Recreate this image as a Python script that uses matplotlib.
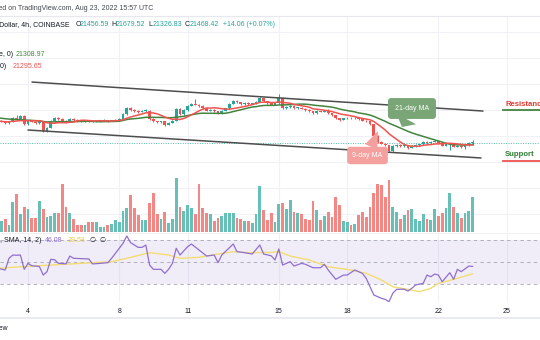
#BTC/USD 4h chart with channel, moving averages, volume and RSI (TradingView style)

import numpy as np
import pandas as pd
import matplotlib
matplotlib.use('Agg')
import matplotlib.pyplot as plt
import matplotlib.dates as mdates
from matplotlib.lines import Line2D
from matplotlib.ticker import FuncFormatter

plt.rcParams['font.family'] = ['Liberation Sans', 'DejaVu Sans']

W, H = 540, 340

#first visible 4h bar
FIRST_BAR = '2022-08-02 16:00'

#closes before the visible window, only needed for the moving averages
hist_closes = [23600, 23700, 23650, 23800, 23750, 23600, 23550, 23450, 23400, 23350,
               23500, 23450, 23300, 23250, 23100, 23050, 23150, 23200, 23100, 23050]
first_open = 23000

closes = [23080, 23150, 23000, 23080, 23380, 23310, 23540, 22920, 23150, 23080,
          23000, 23150, 22380, 22610, 23150, 23380, 23310, 23150, 23080, 23310,
          23230, 23150, 23120, 23190, 23150, 23110, 23150, 23190, 23230, 23150,
          23190, 23230, 23310, 23690, 24150, 24000, 23920, 23850, 23920, 23960,
          23310, 23150, 23080, 23120, 22850, 23000, 23150, 24080, 23690, 24000,
          24310, 24460, 24420, 24310, 24150, 23960, 24000, 23920, 23770, 23920,
          24120, 24460, 24690, 24580, 24460, 24540, 24460, 24500, 24620, 24920,
          24690, 24540, 24420, 24500, 24920, 24150, 24230, 24310, 24150, 24190,
          24080, 24000, 23920, 23770, 23920, 23880, 23920, 23770, 23620, 23380,
          23230, 23350, 23420, 23350, 23380, 23270, 23190, 23120, 22920, 22000,
          21540, 21420, 21310, 20850, 21230, 21310, 21230, 21310, 21080, 21230,
          21310, 21350, 21540, 21460, 21540, 21620, 21460, 21250, 21350, 21380,
          21180, 21260, 21150, 21300, 21456.59, 21468.42]

highs = [23150, 23220, 23190, 23130, 23450, 23650, 23600, 23580, 23200, 23210,
         23130, 23260, 23180, 22700, 23200, 23430, 23480, 23350, 23200, 23360,
         23350, 23270, 23190, 23240, 23230, 23180, 23200, 23230, 23270, 23260,
         23230, 23280, 23360, 23740, 24240, 24210, 24060, 23970, 23980, 24040,
         23990, 23360, 23190, 23180, 23150, 23060, 23200, 24150, 24120, 24060,
         24380, 24560, 24850, 24480, 24350, 24190, 24060, 24050, 23960, 23970,
         24180, 24520, 24760, 24740, 24610, 24600, 24580, 24560, 24680, 25000,
         24960, 24730, 24580, 24560, 25210, 24970, 24290, 24380, 24350, 24240,
         24230, 24130, 24040, 23960, 23970, 23950, 23990, 24100, 23800, 23650,
         23410, 23400, 23470, 23460, 23430, 23410, 23300, 23230, 23150, 22960,
         22050, 21650, 21480, 21340, 21280, 21380, 21360, 21370, 21340, 21290,
         21360, 21400, 21600, 21580, 21600, 21690, 21650, 21500, 21420, 21450,
         21420, 21330, 21300, 21360, 21520, 21679.52]

lows = [22950, 23040, 22940, 22960, 23050, 23260, 23290, 22870, 22880, 23040,
        22950, 22960, 22300, 22340, 22580, 23100, 23260, 23080, 23000, 23050,
        23190, 23110, 23070, 23090, 23100, 23060, 23080, 23120, 23150, 23100,
        23120, 23160, 23200, 23280, 23650, 23950, 23870, 23800, 23810, 23880,
        23250, 23080, 23020, 23030, 22770, 22810, 22970, 23120, 23620, 23650,
        23960, 24280, 24380, 24250, 24100, 23900, 23910, 23870, 23700, 23730,
        23890, 24080, 24430, 24530, 24400, 24420, 24410, 24430, 24470, 24590,
        24640, 24490, 24370, 24380, 24460, 24080, 24100, 24190, 24100, 24110,
        24040, 23960, 23880, 23720, 23730, 23830, 23850, 23720, 23560, 23310,
        23180, 23200, 23320, 23300, 23320, 23220, 23150, 23070, 22860, 21920,
        21450, 21350, 21250, 20780, 20800, 21180, 21160, 21190, 21000, 21040,
        21190, 21260, 21310, 21410, 21420, 21500, 21400, 21200, 21220, 20960,
        21120, 21140, 21090, 20980, 21260, 21326.83]

volumes = [900, 660, 800, 420, 1800, 2260, 1060, 1500, 1360, 820,
           820, 1860, 1400, 900, 960, 1120, 1160, 2860, 1520, 1160,
           760, 420, 420, 400, 620, 620, 600, 320, 300, 420,
           500, 700, 620, 1260, 1460, 2220, 1460, 1020, 700, 700,
           1760, 2360, 1100, 760, 1220, 520, 760, 3220, 1500, 1260,
           1600, 1460, 1060, 2900, 1460, 1160, 1060, 660, 820, 960,
           1120, 1120, 1120, 820, 760, 660, 660, 560, 1060, 2760,
           1300, 700, 1120, 620, 1660, 1760, 1360, 1900, 1220, 1140,
           1060, 760, 700, 1860, 1320, 700, 960, 1180, 920, 2100,
           1600, 660, 600, 420, 460, 1000, 1180, 900, 1500, 2360,
           2860, 2800, 2100, 3100, 1520, 1180, 760, 1020, 1320, 1400,
           800, 660, 1100, 760, 700, 1360, 960, 1160, 1460, 2340,
           1500, 1120, 820, 1160, 1260, 2100]

#rsi and its sma, read at bar index of the visible window
rsi_idx = [0, 2, 3, 4, 5, 6, 7, 8, 9, 11, 12, 13, 14, 15, 16, 18, 19, 20, 22, 24,
           25, 27, 29, 30, 31, 33, 34, 35, 37, 38, 39, 40, 41, 43, 44, 45, 46, 47, 48, 50,
           51, 53, 55, 57, 58, 59, 62, 63, 65, 67, 69, 70, 72, 73, 74, 75, 77, 78, 80, 81,
           83, 85, 86, 87, 89, 91, 92, 94, 96, 97, 99, 101, 102, 103, 104, 105, 107, 108, 109, 110,
           112, 113, 114, 115, 116, 117, 119, 120, 121, 122, 124, 125]
rsi_vals = [44.4, 42.9, 53.3, 56.2, 56.0, 56.2, 43.5, 48.8, 46.7, 46.0,
            38.4, 41.4, 52.4, 52.0, 48.8, 48.4, 55.3, 53.3, 53.0, 52.7,
            48.3, 48.8, 49.4, 53.3, 57.7, 66.6, 73.1, 67.2, 63.0, 63.0,
            65.1, 47.3, 43.5, 43.5, 39.9, 43.5, 48.8, 62.2, 56.2, 63.6,
            66.0, 60.7, 55.3, 56.2, 49.4, 56.2, 66.0, 59.2, 58.3, 57.1,
            65.1, 57.1, 55.5, 51.8, 61.6, 47.3, 50.3, 46.4, 48.8, 48.0,
            44.9, 44.9, 48.0, 42.9, 34.6, 38.4, 38.4, 42.9, 39.9, 35.5,
            20.7, 17.7, 16.8, 14.7, 22.2, 25.7, 25.8, 24.2, 26.6, 29.6,
            31.0, 38.4, 36.9, 39.3, 38.4, 32.5, 40.5, 34.6, 43.5, 41.4,
            46.4, 46.08]
rsi_ma_idx = [0, 6, 14, 22, 30, 34, 40, 45, 48, 53, 58, 62, 66, 72,
              74, 77, 82, 87, 93, 97, 101, 104, 109, 111, 114, 116, 121, 125]
rsi_ma_vals = [44.4, 45.8, 47.3, 48.8, 50.3, 53.3, 58.3, 56.2, 53.3, 54.2, 57.1, 59.2, 58.3, 58.5,
               59.2, 55.3, 51.8, 45.8, 42.9, 39.9, 34.0, 28.0, 25.1, 23.6, 26.6, 31.0, 35.5, 39.58]

day_ticks = [4, 8, 11, 15, 18, 22, 25]

#hand drawn channel (date, price)
upper_line = (['2022-08-04 04:13', '2022-08-23 22:57'], [26150, 23920])
lower_line = (['2022-08-04 00:00', '2022-08-23 20:50'], [22460, 20310])

UP, DOWN = '#26a69a', '#ef5350'
UP_VOL, DOWN_VOL = '#67c0b8', '#f48684'
MA_RED, MA_GREEN = '#f05350', '#43843f'
TEXT = '#131722'
GRID = '#eff1f6'


def px_axes(fig, top, bottom):
    ax = fig.add_axes([0, 1 - bottom / H, 1, (bottom - top) / H])
    ax.patch.set_alpha(0)
    for s in ax.spines.values():
        s.set_visible(False)
    return ax


def fig_text(fig, x, y, s, **kw):
    kw.setdefault('fontsize', 5)
    kw.setdefault('va', 'center')
    kw.setdefault('color', TEXT)
    fig.text(x / W, 1 - y / H, s, **kw)


def fig_hline(fig, y, x0, x1, **kw):
    fig.add_artist(Line2D([x0 / W, x1 / W], [1 - y / H] * 2, **kw))


def callout(ax, text, tip, box, color, pad, tail):
    ax.annotate(text, xy=(mdates.date2num(pd.Timestamp(tip[0])), tip[1]),
                xytext=(mdates.date2num(pd.Timestamp(box[0])), box[1]),
                ha='center', va='center', color='white', fontsize=5, zorder=8,
                bbox=dict(boxstyle='round,pad=%s,rounding_size=0.5' % pad, fc=color, ec='none'),
                arrowprops=dict(arrowstyle='wedge,tail_width=%s' % tail, fc=color, ec='none',
                                shrinkA=0, shrinkB=0))


def main():
    fig = plt.figure(figsize=(W / 100, H / 100), dpi=100)
    fig.patch.set_facecolor('white')

    n = len(closes)
    times = pd.date_range(FIRST_BAR, periods=n, freq='4h')
    x = mdates.date2num(times)
    c = np.array(closes, dtype=float)
    o = np.r_[first_open, c[:-1]]
    up = c >= o

    all_closes = pd.Series(hist_closes + closes, dtype=float)
    ma9 = all_closes.rolling(9).mean().to_numpy()[len(hist_closes):]
    ma21 = all_closes.rolling(21).mean().to_numpy()[len(hist_closes):]

    xlim = mdates.date2num([pd.Timestamp('2022-08-02 18:31'), pd.Timestamp('2022-08-26 10:57')])
    xticks = mdates.date2num([pd.Timestamp(2022, 8, d) for d in day_ticks])

    #price pane
    ax = px_axes(fig, 16, 232)
    ax.set_xlim(xlim)
    ax.set_ylim(14615, 31231)
    ax.set_xticks(xticks)
    ax.set_yticks(range(16000, 31000, 2000))
    ax.grid(color=GRID, lw=0.8)
    ax.set_axisbelow(True)
    ax.tick_params(length=0, labelbottom=False, labelleft=False)

    cols = np.where(up, UP, DOWN)
    body_lo = np.minimum(o, c)
    body_h = np.maximum(np.abs(c - o), 60)
    ax.vlines(x, lows, highs, colors=cols, lw=0.75, zorder=3)
    ax.bar(x, body_h, bottom=body_lo, width=0.115, color=cols, lw=0, zorder=4)

    ax.plot(x, ma21, color=MA_GREEN, lw=1.1, zorder=5)
    ax.plot(x, ma9, color=MA_RED, lw=1.1, zorder=5)

    for line in (upper_line, lower_line):
        ax.plot(mdates.date2num(pd.to_datetime(line[0])), line[1], color='#4d4d4d', lw=1.1,
                solid_capstyle='round', zorder=6)

    ax.axhline(closes[-1], color=UP, lw=0.7, ls=(0, (1, 1.5)), alpha=0.8, zorder=2)

    callout(ax, '21-day MA', ('2022-08-20 09:36', 22692), ('2022-08-20 20:10', 24115),
            '#7aa677', 1.0, 3.2)
    callout(ax, '9-day MA', ('2022-08-19 08:24', 22385), ('2022-08-18 21:22', 20500),
            '#f4a09e', 0.75, 1.9)

    #volume overlay
    axv = px_axes(fig, 16, 232)
    axv.set_xlim(xlim)
    axv.set_ylim(0, 12960)
    axv.bar(x, volumes, width=0.125, color=np.where(up, UP_VOL, DOWN_VOL), lw=0)
    axv.set_xticks([])
    axv.set_yticks([])

    #rsi pane
    axr = px_axes(fig, 234, 302)
    axr.set_xlim(xlim)
    axr.set_ylim(14.44, 74.9)
    axr.axhspan(30, 70, color='#7e57c2', alpha=0.1, lw=0)
    for lvl in (70, 50, 30):
        axr.axhline(lvl, color='#a3a6af', lw=0.6, ls=(0, (4, 4)))
    axr.set_xticks(xticks)
    axr.set_yticks([])
    axr.grid(axis='x', color=GRID, lw=0.8)
    axr.set_axisbelow(True)
    axr.xaxis.set_major_formatter(FuncFormatter(lambda v, p: str(mdates.num2date(v).day)))
    axr.tick_params(length=0, pad=4.5, labelsize=5, labelcolor=TEXT)
    axr.plot(x[rsi_ma_idx], rsi_ma_vals, color='#f3dd72', lw=1.0)
    axr.plot(x[rsi_idx], rsi_vals, color='#8f6fd0', lw=0.9)

    #header and legends
    fig_hline(fig, 16, 0, W, color='#e6e8ee', lw=0.8)
    fig_hline(fig, 233, 0, W, color='#eceef3', lw=0.6)
    fig_hline(fig, 318, 0, W, color='#e6e8ee', lw=1.2)
    fig_text(fig, 153, 9, 'Published on TradingView.com, Aug 23, 2022 15:57 UTC', ha='right', color='#434651')
    fig_text(fig, 70, 25, 'Bitcoin / U.S. Dollar, 4h, COINBASE', ha='right')
    for lx, lab, vx, val in [(75.3, 'O', 79.5, '21456.59'), (111.8, 'H', 116, '21679.52'),
                             (148.8, 'L', 152.5, '21326.83'), (185, 'C', 189.2, '21468.42')]:
        fig_text(fig, lx, 25, lab)
        fig_text(fig, vx, 25, val, color=UP)
    fig_text(fig, 223, 25, '+14.06 (+0.07%)', color=UP)

    fig_text(fig, 13.5, 55, 'MA (21, close, 0)', ha='right')
    fig_text(fig, 15.5, 55, '21308.97', color=MA_GREEN)
    fig_text(fig, 6.5, 66, 'MA (9, close, 0)', ha='right')
    fig_text(fig, 12.3, 66, '21295.65', color=MA_RED)

    fig_text(fig, 41.5, 240.5, 'RSI (14, close, 14, SMA, 14, 2)', ha='right')
    fig_text(fig, 45, 240.5, '46.08', color='#8f6fd0')
    fig_text(fig, 68, 240.5, '39.58', color='#e9cf4f')
    fig_text(fig, 89, 240.5, '\u2205', family=['DejaVu Sans'])
    fig_text(fig, 99, 240.5, '\u2205', family=['DejaVu Sans'])

    fig_text(fig, 7.5, 329, 'Powered by TradingView', ha='right')

    #support / resistance tags
    fig_text(fig, 505, 104.5, 'Resistance', color='#e53935', fontsize=5.6, fontweight='bold')
    fig_hline(fig, 109.5, 503, W, color=MA_GREEN, lw=1.3)
    fig_text(fig, 505, 155, 'Support', color='#2e7d32', fontsize=5.6, fontweight='bold')
    fig_hline(fig, 160.8, 503, W, color=DOWN, lw=1.3)

    fig.savefig('out.png', dpi=100)


if __name__ == '__main__':
    main()
